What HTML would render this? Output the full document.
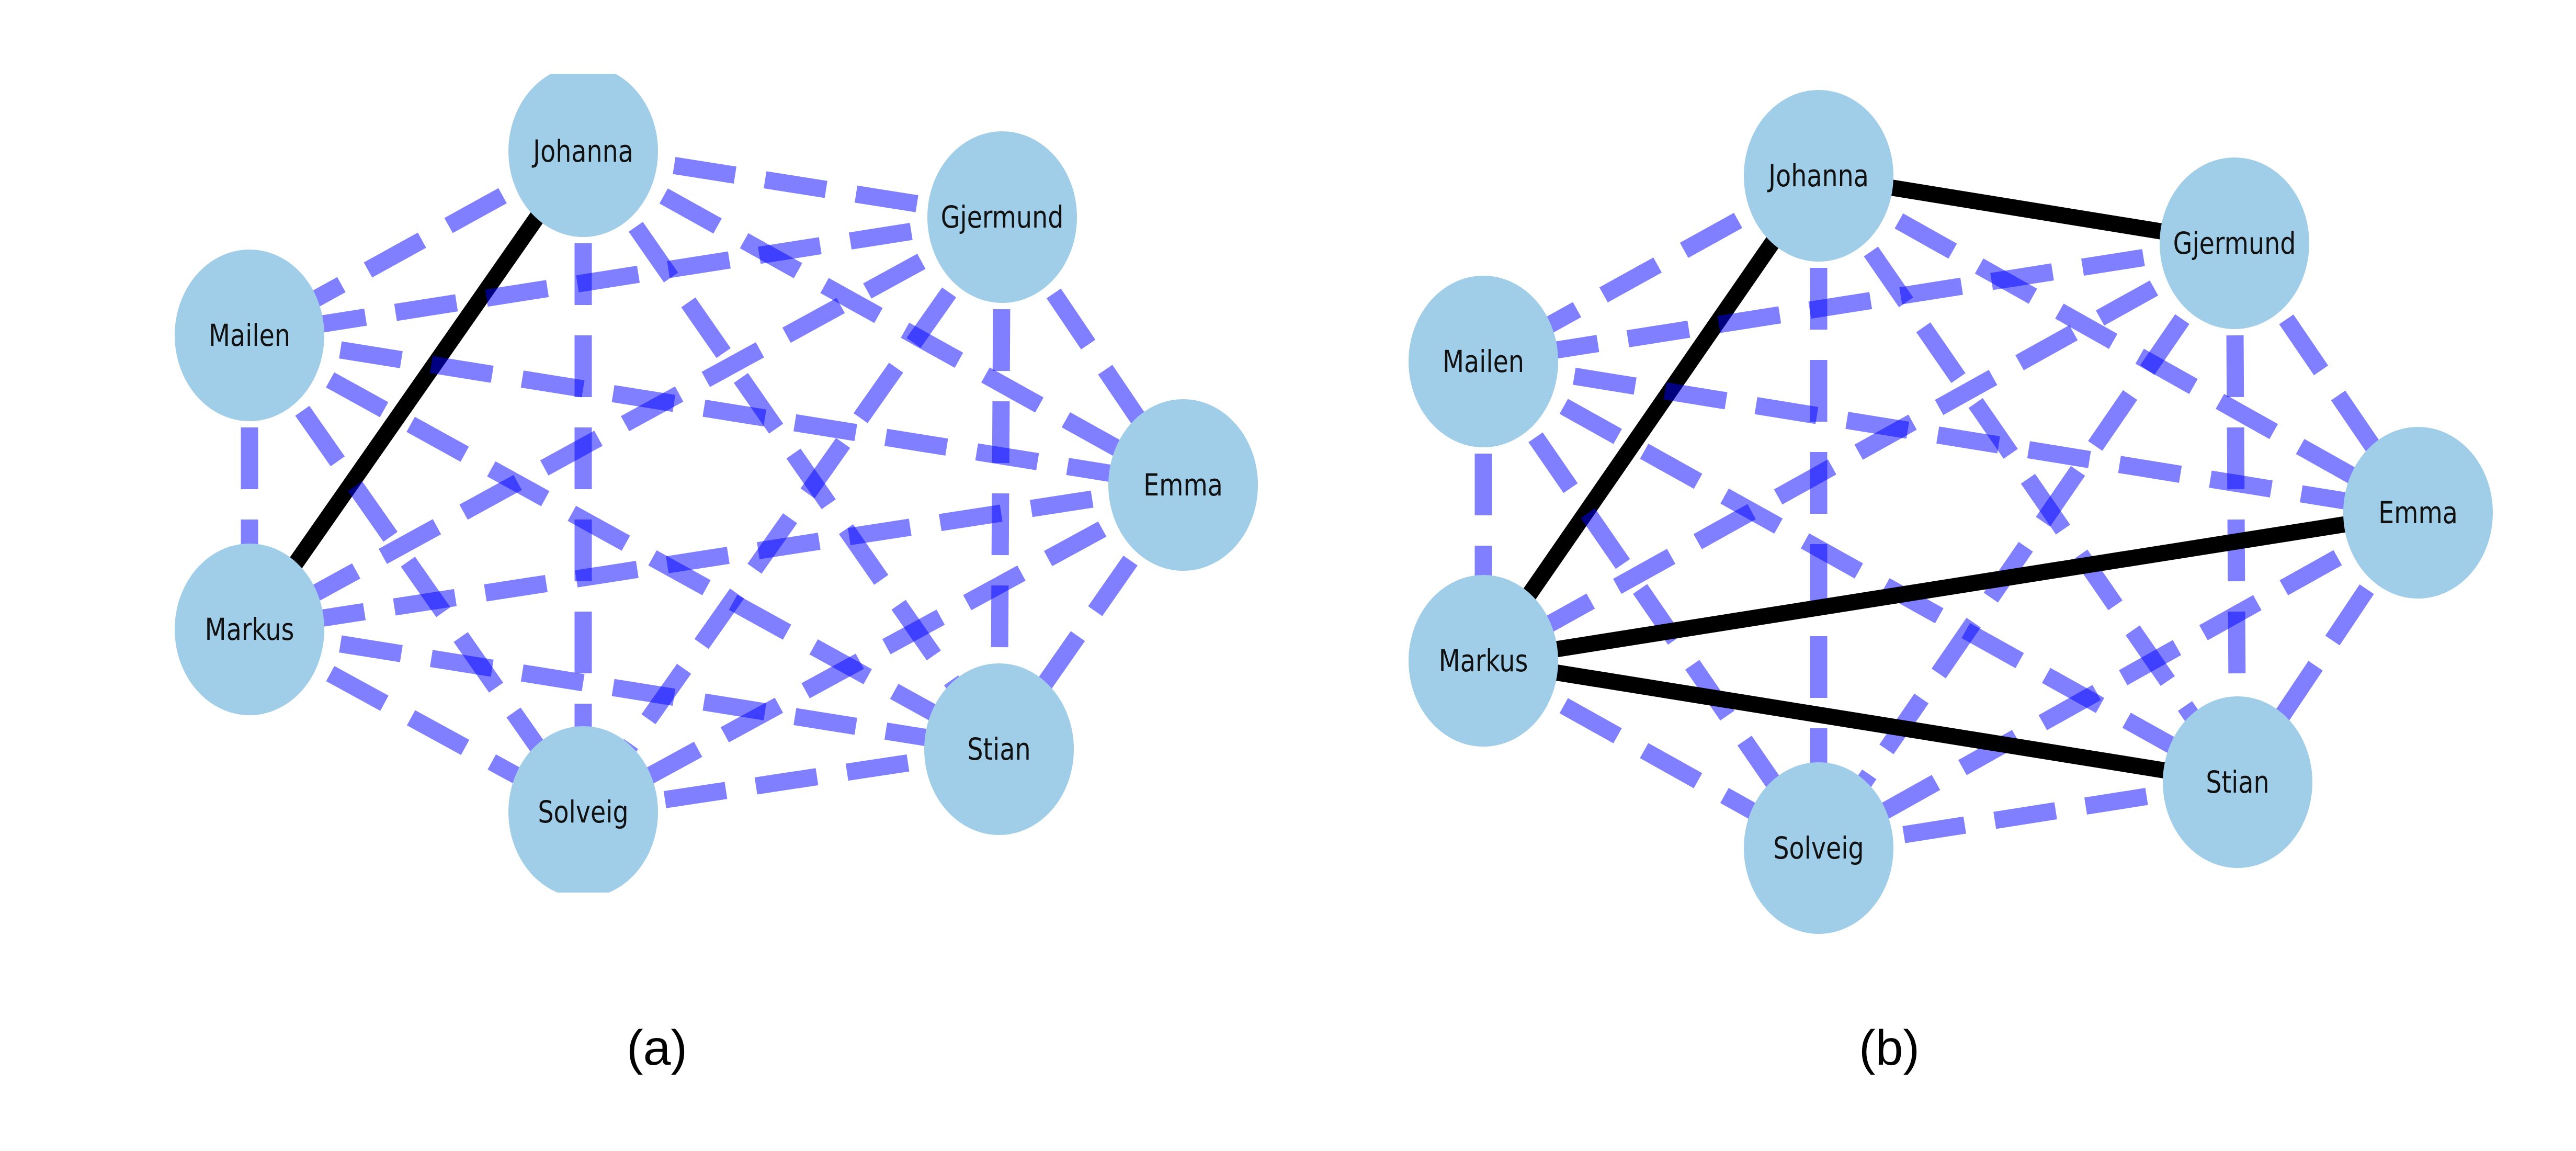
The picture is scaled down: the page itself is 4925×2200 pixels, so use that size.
<!DOCTYPE html>
<html><head><meta charset="utf-8"><style>
body{margin:0;background:#fff;width:4925px;height:2200px;overflow:hidden}
svg{display:block}
</style></head><body>
<svg id="chart" width="4925" height="2200" xmlns="http://www.w3.org/2000/svg">
<defs>
<clipPath id="clipA"><rect x="0" y="141" width="2460" height="1565"/></clipPath>
<clipPath id="clipB"><rect x="2460" y="0" width="2465" height="2200"/></clipPath>
</defs>
<g id="panelA" clip-path="url(#clipA)"></g>
<g id="panelB" clip-path="url(#clipB)"></g>
<text x="1256" y="2035" font-family="Liberation Sans, sans-serif" font-size="95" text-anchor="middle">(a)</text>
<text x="3612" y="2035" font-family="Liberation Sans, sans-serif" font-size="95" text-anchor="middle">(b)</text>
</svg>
<script>
const names = ["Johanna","Gjermund","Mailen","Emma","Markus","Stian","Solveig"];
const posAx = [1115,1916,477,2262,477,1910,1115];
const posAy = [289,415,641,927,1203,1432,1552];
const posBx = [3477,4272,2836,4623,2836,4278,3477];
const posBy = [336,465,691,980,1263,1495,1621];
const solidA = [["Johanna","Markus"]];
const solidB = [["Johanna","Markus"],["Johanna","Gjermund"],["Markus","Emma"],["Markus","Stian"]];
const NS="http://www.w3.org/2000/svg";
function isSolid(list,a,b){return list.some(p=>(p[0]===a&&p[1]===b)||(p[0]===b&&p[1]===a));}
function draw(gid,px,py,solid){
  const g=document.getElementById(gid);
  for(let i=0;i<names.length;i++)for(let j=i+1;j<names.length;j++){
    const l=document.createElementNS(NS,"line");
    l.setAttribute("x1",px[i]);l.setAttribute("y1",py[i]);
    l.setAttribute("x2",px[j]);l.setAttribute("y2",py[j]);
    if(isSolid(solid,names[i],names[j])){
      l.setAttribute("stroke","#000");l.setAttribute("stroke-width","31");
    }else{
      l.setAttribute("stroke","rgba(0,0,255,0.5)");l.setAttribute("stroke-width","33");
      l.setAttribute("stroke-dasharray","118 58");
    }
    
    
    g.appendChild(l);
  }
  for(let i=0;i<names.length;i++){
    const e=document.createElementNS(NS,"ellipse");
    e.setAttribute("cx",px[i]);e.setAttribute("cy",py[i]);
    e.setAttribute("rx",143);e.setAttribute("ry",164);
    e.setAttribute("fill","#a0cde8");
    
    
    g.appendChild(e);
    const t=document.createElementNS(NS,"text");
    t.setAttribute("x",0);t.setAttribute("y",0);
    t.setAttribute("transform","translate("+px[i]+","+(py[i]+20)+") scale(0.82,1)");
    t.setAttribute("text-anchor","middle");
    t.setAttribute("font-family","DejaVu Sans, sans-serif");
    t.setAttribute("font-size","58");
    t.setAttribute("fill","#111");
    t.textContent=names[i];
    
    
    g.appendChild(t);
  }
}
draw("panelA",posAx,posAy,solidA);
draw("panelB",posBx,posBy,solidB);
</script>
</body></html>
